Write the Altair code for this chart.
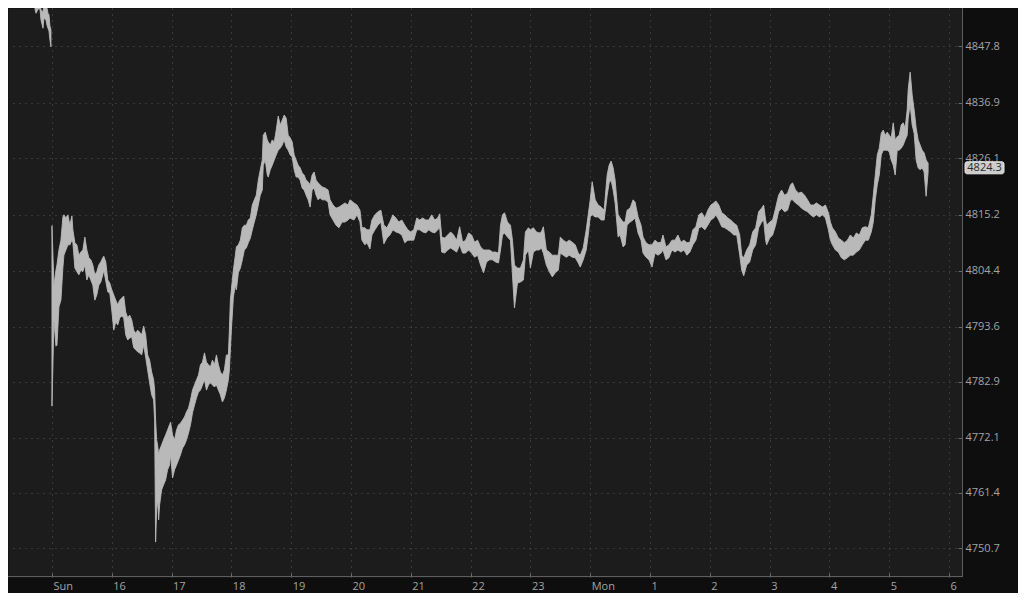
import altair as alt
import pandas as pd

# ---- data (minutes since Sunday 15:00 session open; Friday bars are negative) ----
fri_minutes = [-17, -16, -14, -12, -11, -9, -8, -6, -5, -4, -3, -2, -1]
fri_high = [4857.7, 4857.7, 4857.3, 4856.2, 4854.8, 4854.4, 4856.0, 4855.6, 4855.2, 4854.2, 4853.9, 4851.7, 4851.0]
fri_low = [4855.0, 4854.2, 4855.0, 4855.0, 4852.9, 4851.3, 4853.3, 4852.9, 4851.9, 4851.3, 4850.8, 4849.0, 4847.7]

minutes = [0, 2, 4, 5, 7, 9, 11, 12, 14, 16, 18, 20, 21, 23, 25, 27, 29, 31, 33, 35, 37, 39, 41, 43, 45, 47, 49, 51, 52, 54,
           56, 58, 60, 62, 64, 66, 68, 70, 72, 74, 76, 78, 80, 82, 84, 86, 88, 90, 92, 94, 96, 98, 100, 102, 103, 104, 105, 106, 107, 108,
           110, 112, 114, 116, 118, 119, 121, 123, 125, 127, 129, 131, 133, 135, 137, 139, 141, 143, 145, 147, 149, 151, 153, 155, 157, 159, 161, 163, 165, 167,
           169, 171, 173, 175, 177, 178, 179, 180, 182, 184, 185, 187, 189, 191, 193, 195, 197, 199, 201, 203, 205, 207, 209, 211, 212, 214, 216, 217, 219, 221,
           223, 225, 227, 229, 231, 233, 235, 237, 239, 241, 243, 245, 247, 249, 251, 253, 255, 257, 259, 261, 263, 265, 267, 269, 271, 274, 277, 279, 282, 285,
           288, 291, 294, 297, 299, 303, 306, 309, 311, 314, 316, 319, 321, 324, 327, 330, 333, 336, 339, 342, 345, 348, 351, 354, 357, 360, 363, 366, 369, 372,
           375, 378, 381, 384, 387, 389, 391, 394, 397, 400, 403, 406, 409, 412, 415, 418, 421, 424, 427, 430, 433, 436, 439, 442, 445, 448, 450, 452, 454, 457,
           460, 462, 464, 467, 470, 473, 475, 478, 480, 483, 486, 489, 491, 493, 496, 499, 502, 505, 508, 510, 513, 516, 519, 522, 525, 528, 530, 533, 536, 538,
           540, 542, 545, 548, 551, 554, 557, 559, 561, 563, 565, 568, 570, 573, 575, 577, 580, 583, 585, 588, 591, 593, 596, 599, 602, 605, 608, 611, 613, 616,
           619, 622, 625, 628, 631, 634, 637, 640, 643, 646, 649, 652, 655, 658, 661, 664, 666, 669, 672, 675, 678, 681, 684, 687, 690, 692, 694, 697, 700, 703,
           706, 709, 712, 714, 716, 717, 720, 723, 726, 729, 732, 735, 738, 741, 743, 746, 749, 752, 755, 758, 761, 764, 767, 770, 773, 776, 779, 781, 783, 786,
           789, 792, 795, 798, 801, 804, 807, 810, 813, 816, 819, 822, 824, 826, 828, 830, 832, 834, 836, 838, 840, 842, 844, 846, 848, 850, 852, 854, 856, 858,
           859, 861, 863, 865, 867, 869, 871, 873, 875, 877, 879]

high = [4813.1, 4801.6, 4804.5, 4805.5, 4808.4, 4810.3, 4814.8, 4815.2, 4814.6, 4815.2, 4813.2, 4815.0, 4812.3, 4809.8, 4809.4, 4807.4, 4808.0, 4808.4, 4810.9, 4808.4,
        4806.9, 4806.5, 4805.5, 4803.6, 4804.2, 4805.5, 4806.1, 4806.9, 4807.2, 4806.1, 4802.6, 4802.0, 4800.7, 4799.7, 4798.7, 4797.8, 4798.7, 4799.1, 4799.5, 4796.4,
        4795.3, 4795.8, 4794.9, 4792.9, 4792.3, 4792.9, 4792.5, 4792.0, 4793.7, 4792.0, 4788.1, 4787.1, 4784.8, 4783.3, 4781.3, 4775.5, 4771.7, 4770.7, 4768.8, 4769.7,
        4770.7, 4771.7, 4772.6, 4773.6, 4774.6, 4775.1, 4772.6, 4771.7, 4773.6, 4774.6, 4774.9, 4775.5, 4776.1, 4777.1, 4777.8, 4779.4, 4781.3, 4782.3, 4783.3, 4784.2,
        4786.2, 4786.7, 4788.5, 4786.7, 4786.2, 4785.8, 4787.1, 4786.2, 4788.1, 4786.2, 4784.8, 4784.2, 4785.2, 4788.1, 4788.1, 4792.9, 4798.7, 4800.7, 4804.5, 4807.4,
        4809.0, 4809.4, 4810.3, 4812.7, 4813.2, 4813.2, 4814.2, 4814.6, 4817.1, 4818.1, 4819.0, 4821.9, 4823.9, 4825.8, 4830.6, 4831.2, 4829.7, 4829.3, 4828.7, 4829.7,
        4829.3, 4831.6, 4834.3, 4832.6, 4833.5, 4834.5, 4833.9, 4830.6, 4830.1, 4829.3, 4826.8, 4825.8, 4824.8, 4824.3, 4823.3, 4822.9, 4821.9, 4821.6, 4821.0, 4822.9,
        4823.5, 4821.9, 4821.4, 4821.0, 4820.6, 4820.4, 4820.0, 4818.1, 4817.1, 4816.5, 4816.7, 4817.1, 4817.5, 4817.1, 4818.1, 4817.5, 4817.1, 4816.1, 4812.7, 4812.7,
        4812.3, 4812.3, 4814.2, 4815.2, 4815.8, 4816.1, 4813.2, 4812.7, 4813.8, 4815.2, 4814.6, 4813.8, 4814.2, 4813.2, 4812.3, 4811.9, 4812.3, 4814.6, 4814.2, 4814.6,
        4814.2, 4814.2, 4815.2, 4814.2, 4814.6, 4815.4, 4810.9, 4810.7, 4811.3, 4811.9, 4811.3, 4810.3, 4812.9, 4809.9, 4810.3, 4811.7, 4811.3, 4809.9, 4810.3, 4809.0,
        4808.4, 4808.4, 4808.4, 4808.0, 4808.0, 4807.8, 4813.2, 4815.2, 4815.6, 4813.8, 4813.2, 4810.3, 4805.5, 4804.9, 4804.9, 4806.5, 4811.9, 4812.7, 4812.3, 4812.7,
        4811.9, 4811.7, 4811.9, 4812.9, 4808.4, 4808.0, 4807.4, 4807.4, 4807.4, 4810.9, 4810.3, 4809.9, 4810.3, 4809.9, 4809.4, 4807.8, 4807.4, 4808.8, 4812.3, 4815.2,
        4818.1, 4821.6, 4818.1, 4817.1, 4816.7, 4816.1, 4822.9, 4824.8, 4825.6, 4824.3, 4821.9, 4815.2, 4814.6, 4813.8, 4813.8, 4816.1, 4816.5, 4818.1, 4817.7, 4814.8,
        4813.2, 4810.9, 4809.8, 4809.4, 4809.4, 4810.3, 4809.8, 4809.9, 4811.3, 4809.0, 4809.4, 4810.3, 4810.3, 4811.3, 4809.9, 4810.3, 4809.8, 4809.9, 4812.3, 4812.9,
        4815.2, 4815.6, 4814.6, 4816.1, 4817.1, 4817.5, 4817.9, 4817.1, 4815.6, 4815.2, 4814.6, 4814.2, 4813.6, 4813.2, 4811.3, 4807.4, 4806.9, 4808.4, 4809.4, 4811.9,
        4812.7, 4815.8, 4816.5, 4817.1, 4814.2, 4813.2, 4813.8, 4814.2, 4816.5, 4819.0, 4820.0, 4819.0, 4819.4, 4821.0, 4821.4, 4820.0, 4819.4, 4819.6, 4819.0, 4818.1,
        4817.1, 4817.1, 4817.5, 4817.1, 4816.7, 4817.1, 4815.6, 4813.8, 4812.7, 4811.9, 4810.7, 4810.3, 4809.8, 4810.3, 4811.3, 4810.7, 4811.7, 4811.3, 4812.7, 4812.9,
        4812.7, 4815.2, 4819.0, 4822.9, 4826.8, 4828.1, 4831.0, 4831.6, 4830.6, 4831.2, 4830.6, 4830.1, 4833.0, 4829.7, 4830.3, 4830.6, 4832.6, 4833.0, 4832.0, 4835.5,
        4839.4, 4842.8, 4838.4, 4835.5, 4832.0, 4829.7, 4828.7, 4827.7, 4827.2, 4825.8, 4825.2]

low = [4778.2, 4794.9, 4789.8, 4790.0, 4797.4, 4798.7, 4805.1, 4807.4, 4808.4, 4809.4, 4809.4, 4810.3, 4809.8, 4804.9, 4804.2, 4803.6, 4804.5, 4804.2, 4805.5, 4802.6,
       4803.6, 4802.6, 4801.6, 4798.7, 4799.7, 4801.6, 4802.2, 4803.6, 4804.5, 4802.4, 4800.3, 4800.1, 4796.8, 4792.9, 4794.5, 4793.9, 4795.3, 4795.6, 4795.3, 4792.0,
       4791.0, 4791.4, 4791.6, 4789.5, 4789.1, 4788.7, 4788.5, 4788.1, 4790.0, 4787.7, 4785.2, 4782.7, 4780.4, 4779.4, 4775.5, 4751.9, 4758.1, 4760.1, 4756.2, 4759.1,
       4762.0, 4763.0, 4763.9, 4765.9, 4766.8, 4768.8, 4764.3, 4765.9, 4766.8, 4767.8, 4768.8, 4770.1, 4770.7, 4771.7, 4773.0, 4774.6, 4776.9, 4778.4, 4779.8, 4780.9,
       4781.3, 4782.3, 4783.3, 4781.3, 4782.3, 4782.7, 4782.3, 4781.9, 4782.3, 4781.3, 4780.4, 4779.0, 4779.8, 4781.3, 4783.3, 4785.2, 4789.1, 4792.9, 4799.3, 4801.6,
       4800.7, 4804.0, 4804.9, 4806.5, 4808.4, 4808.8, 4809.8, 4810.7, 4812.3, 4813.8, 4815.2, 4817.1, 4819.0, 4820.0, 4824.8, 4825.8, 4822.9, 4822.5, 4823.9, 4824.8,
       4825.8, 4826.8, 4827.7, 4828.1, 4828.7, 4829.7, 4828.3, 4827.7, 4826.8, 4826.4, 4823.9, 4822.5, 4822.5, 4821.9, 4820.4, 4820.0, 4819.0, 4818.1, 4816.7, 4820.0,
       4820.4, 4819.0, 4818.1, 4818.5, 4818.1, 4818.1, 4817.7, 4815.2, 4814.2, 4813.2, 4812.7, 4813.8, 4813.8, 4814.2, 4814.6, 4814.2, 4815.2, 4813.8, 4810.3, 4809.4,
       4809.8, 4808.6, 4811.3, 4812.3, 4813.2, 4813.8, 4809.6, 4810.7, 4811.3, 4812.3, 4811.9, 4811.7, 4811.3, 4809.8, 4810.3, 4810.3, 4810.3, 4812.3, 4812.3, 4811.9,
       4811.7, 4812.3, 4811.9, 4811.7, 4812.3, 4812.7, 4808.0, 4807.8, 4808.4, 4808.8, 4808.4, 4808.0, 4809.4, 4807.8, 4807.8, 4808.4, 4807.8, 4807.0, 4807.4, 4805.5,
       4804.0, 4806.1, 4806.5, 4806.5, 4806.1, 4805.9, 4808.4, 4811.3, 4811.7, 4810.9, 4810.3, 4803.6, 4797.2, 4802.0, 4802.2, 4802.6, 4807.4, 4808.4, 4804.9, 4808.0,
       4808.4, 4808.4, 4808.8, 4807.8, 4805.5, 4804.2, 4803.2, 4804.0, 4804.5, 4807.8, 4807.4, 4807.0, 4807.4, 4807.0, 4806.9, 4805.9, 4805.1, 4806.5, 4808.4, 4811.3,
       4814.8, 4815.2, 4814.8, 4814.8, 4814.2, 4814.2, 4819.0, 4821.4, 4821.9, 4820.0, 4817.5, 4810.9, 4811.3, 4809.0, 4809.4, 4813.2, 4813.8, 4814.2, 4814.6, 4811.7,
       4810.3, 4807.8, 4807.0, 4806.5, 4805.1, 4807.8, 4807.4, 4807.8, 4808.4, 4806.5, 4806.9, 4808.4, 4808.0, 4808.4, 4808.0, 4808.4, 4807.4, 4808.0, 4809.4, 4810.3,
       4812.7, 4812.9, 4812.3, 4813.2, 4814.2, 4814.6, 4815.2, 4814.2, 4812.9, 4812.7, 4812.3, 4811.9, 4811.3, 4811.3, 4807.4, 4804.5, 4803.4, 4805.5, 4806.1, 4808.4,
       4809.4, 4812.7, 4813.8, 4814.2, 4810.3, 4809.4, 4810.7, 4811.3, 4813.2, 4815.8, 4816.5, 4815.8, 4816.1, 4818.1, 4818.1, 4817.5, 4817.1, 4816.5, 4816.1, 4815.8,
       4815.2, 4814.8, 4815.2, 4814.8, 4815.2, 4814.6, 4812.3, 4810.3, 4809.4, 4808.4, 4808.0, 4806.9, 4806.5, 4806.9, 4807.4, 4807.4, 4808.0, 4808.4, 4809.4, 4810.3,
       4810.3, 4811.9, 4813.8, 4818.1, 4821.0, 4822.9, 4826.8, 4827.7, 4827.7, 4827.7, 4827.4, 4825.8, 4824.8, 4822.9, 4827.7, 4827.7, 4828.1, 4828.7, 4829.7, 4830.6,
       4833.9, 4836.5, 4832.6, 4831.0, 4825.8, 4824.3, 4823.9, 4824.3, 4823.5, 4818.8, 4823.5]

last_close = 4824.3

y_ticks = [4847.8, 4836.9, 4826.1, 4815.2, 4804.4, 4793.6, 4782.9, 4772.1, 4761.4, 4750.7]
x_tick_minutes = [0, 60, 120, 180, 240, 300, 360, 420, 480, 540, 600, 660, 720, 780, 840, 900]
x_tick_labels = ["Sun", "16", "17", "18", "19", "20", "21", "22", "23", "Mon", "1", "2", "3", "4", "5", "6"]

df = pd.concat([
    pd.DataFrame({"minute": fri_minutes, "high": fri_high, "low": fri_low, "session": "fri"}),
    pd.DataFrame({"minute": minutes, "high": high, "low": low, "session": "main"}),
], ignore_index=True)

label_expr = ("[" + ",".join("'%s'" % s for s in x_tick_labels) + "][indexof(["
              + ",".join(str(v) for v in x_tick_minutes) + "], datum.value)]")

FONT = "Open Sans"
LABEL = "#a4a4a4"
GRID = "#565656"
LINE = "#b9b9b9"

x_scale = alt.Scale(domain=[-44.1, 913.0], nice=False, zero=False)
y_scale = alt.Scale(domain=[4745.15, 4855.21], nice=False, zero=False)

area = alt.Chart(df).mark_area(
    color=LINE, stroke=LINE, strokeWidth=0.9, clip=True, interpolate="linear"
).encode(
    x=alt.X("minute:Q", scale=x_scale, axis=alt.Axis(
        values=x_tick_minutes, labelExpr=label_expr, title=None, orient="bottom",
        domain=False, offset=-4, tickSize=4, tickColor="#6a6a6a",
        labelColor=LABEL, labelFont=FONT, labelFontSize=11, labelAlign="left",
        labelBaseline="top", labelPadding=3, labelOffset=1, labelFlush=False, labelOverlap=False,
        grid=True, gridColor=GRID, gridDash=[1, 5], gridWidth=1)),
    y=alt.Y("low:Q", scale=y_scale, axis=alt.Axis(
        values=y_ticks, format=".1f", title=None, orient="right",
        domain=False, offset=-4, tickSize=4, tickColor="#6a6a6a",
        labelColor=LABEL, labelFont=FONT, labelFontSize=11, labelAlign="left",
        labelBaseline="middle", labelPadding=3, labelFlush=False, labelOverlap=False,
        grid=True, gridColor=GRID, gridDash=[1, 5], gridWidth=1)),
    y2="high:Q",
    detail="session:N",
)

one = pd.DataFrame({"a": [0]})
border_right = alt.Chart(one).mark_rule(color="#5e5e5e", strokeWidth=1).encode(
    x=alt.value(954.5), y=alt.value(0), y2=alt.value(569))
border_bottom = alt.Chart(one).mark_rule(color="#5e5e5e", strokeWidth=1).encode(
    x=alt.value(0), x2=alt.value(955), y=alt.value(568.5))

last_df = pd.DataFrame({"price": [last_close]})
box = alt.Chart(last_df).transform_calculate(
    top="datum.price + 1.16", bottom="datum.price - 1.16"
).mark_rect(fill="#cdcdcd", stroke="#e6e6e6", strokeWidth=1, cornerRadius=2).encode(
    x=alt.value(957), x2=alt.value(996),
    y=alt.Y("top:Q"), y2=alt.Y2("bottom:Q"))
box_text = alt.Chart(last_df).mark_text(
    font=FONT, fontSize=11, color="#2c2c2c", align="center", baseline="middle"
).encode(
    x=alt.value(976.5), y=alt.Y("price:Q"), text=alt.Text("price:Q", format=".1f"))

chart = alt.layer(area, border_right, border_bottom, box, box_text).properties(
    width=954, height=569, background="#0e0e0e",
    padding={"left": 0, "top": 0, "right": 56, "bottom": 16},
    autosize=alt.AutoSizeParams(type="none"),
).configure_view(fill="#1c1c1c", stroke="transparent")

chart.save("out.html", embed_options={"renderer": "svg", "actions": False})
